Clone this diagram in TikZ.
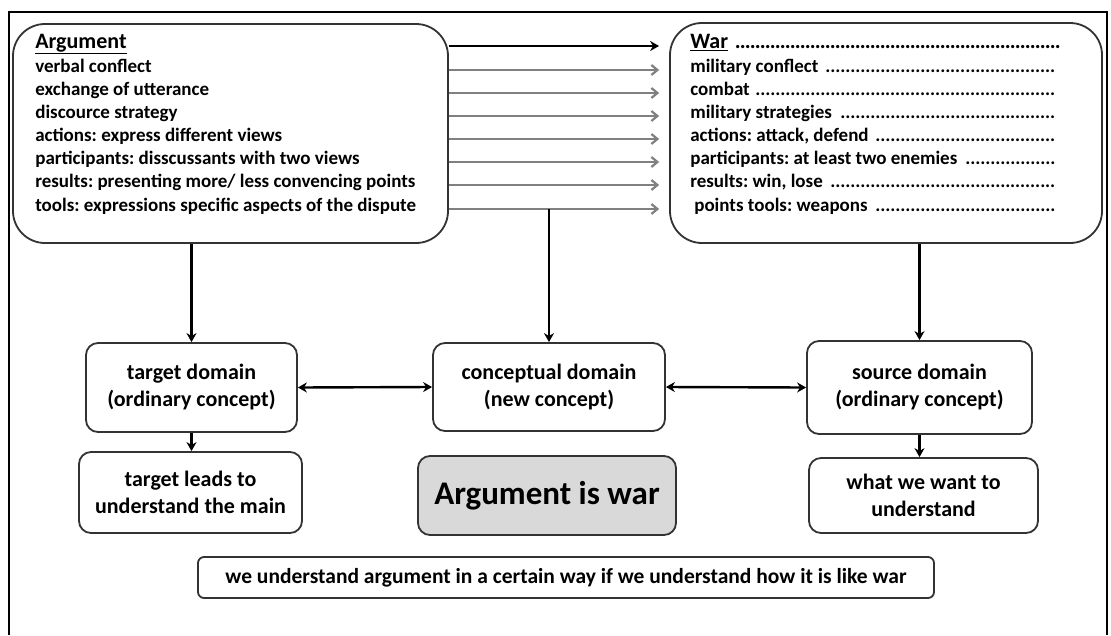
\documentclass[tikz,border=0pt]{standalone}
\usepackage{fontspec}
\setmainfont{Carlito}
\usetikzlibrary{arrows.meta,positioning}
\frenchspacing

\newcommand{\dotlead}{\leaders\hbox to 5pt{\hss.\hss}\hfill}

\begin{document}
\begin{tikzpicture}[
      x = 1pt, y = -1pt, % one unit per pixel, y downwards
      > = {Stealth[length=9pt,width=10pt]}, % arrow head style
      semithick, % line style
      font = \bfseries
      ]

      \tikzset{
      box/.style = {draw = black!80, line width = 1.8pt, rounded corners = 12pt,
                    fill = white, align = center, inner sep = 0pt,
                    font = \bfseries\fontsize{22}{27}\selectfont},
      big box/.style = {box, rounded corners = 32pt},
      list line/.style = {anchor = mid west, inner sep = 0pt,
                          font = \bfseries\fontsize{19}{22}\selectfont},
      head line/.style = {list line, font = \bfseries\fontsize{22}{26}\selectfont},
      map arrow/.style = {-{Straight Barb[length=6pt,width=10pt]}, draw = black!50, line width = 2.2pt},
      down arrow/.style = {->, line width = 2.8pt},
      both arrow/.style = {<->, line width = 2.4pt}
      }

      \useasboundingbox (0,0) rectangle (1111,635);
      \draw[line width = 1.6pt] (9,635) -- (9,12) -- (1107,12) -- (1107,635);

      % the two domains
      \node[big box, minimum width = 435pt, minimum height = 219pt] (arg) at (230.5,133.5) {};
      \node[big box, minimum width = 432pt, minimum height = 220pt] (war) at (886,133) {};

      \node[head line] (a0) at (35,46) {\underline{Argument}};
      \node[head line] (w0) at (690,46) {\hbox to 374pt{\underline{War}\,\dotlead}};

      \foreach \i/\y/\argtxt/\wartxt in {
          1/70/{verbal conflect}/{military conflect},
          2/93/{exchange of utterance}/{combat},
          3/116/{discource strategy}/{military strategies},
          4/139/{actions: express different views}/{actions: attack, defend},
          5/162/{participants: disscussants with two views}/{participants: at least two enemies},
          6/185/{results: presenting more/ less convencing points}/{results: win, lose},
          7/209/{tools: expressions specific aspects of the dispute}/{\hspace{4pt}points tools: weapons}}
      {
        \node[list line] (a\i) at (35,\y) {\argtxt};
        \node[list line] (w\i) at (690,\y) {\hbox to 368pt{\wartxt\ \dotlead}};
      }

      % mapping arrows
      \draw[->, line width = 2.6pt] (arg.east |- a0.mid) -- ([xshift=-10pt]war.west |- a0.mid);
      \foreach \i in {1,...,7}
        \draw[map arrow] (arg.east |- a\i.mid) -- ([xshift=-10pt]war.west |- a\i.mid);

      % lower boxes
      \node[box, minimum width = 211pt, minimum height = 89pt] (target) at (191.5,387.5)
        {target domain\\(ordinary concept)};
      \node[box, minimum width = 232pt, minimum height = 88pt] (concept) at (549,387)
        {conceptual domain\\(new concept)};
      \node[box, minimum width = 225pt, minimum height = 93pt] (source) at (919.5,387.5)
        {source domain\\(ordinary concept)};

      \node[box, minimum width = 223pt, minimum height = 81pt] (leads) at (190.5,492.5)
        {target leads to\\understand the main};
      \node[box, fill = black!15, minimum width = 258pt, minimum height = 79pt,
            font = \bfseries\fontsize{33}{38}\selectfont] (claim) at (547,495.5) {Argument is war};
      \node[box, minimum width = 229pt, minimum height = 75pt] (want) at (923.5,495.5)
        {what we want to\\understand};

      \node[box, rounded corners = 6pt, minimum width = 736pt, minimum height = 41pt,
            font = \bfseries\fontsize{21.5}{24}\selectfont] (summary) at (566,577.5)
        {we understand argument in a certain way if we understand how it is like war};

      \draw[down arrow] (arg.south -| target) -- (target);
      \draw[down arrow] (a7.mid -| concept) -- (concept);
      \draw[down arrow] (war.south -| source) -- (source);

      \draw[both arrow] (target.east) -- (concept.west);
      \draw[both arrow] (concept.east) -- (source.west);

      \draw[down arrow] (target.south) -- (target.south |- leads.north);
      \draw[down arrow] (source.south) -- (source.south |- want.north);

    \end{tikzpicture}
\end{document}
